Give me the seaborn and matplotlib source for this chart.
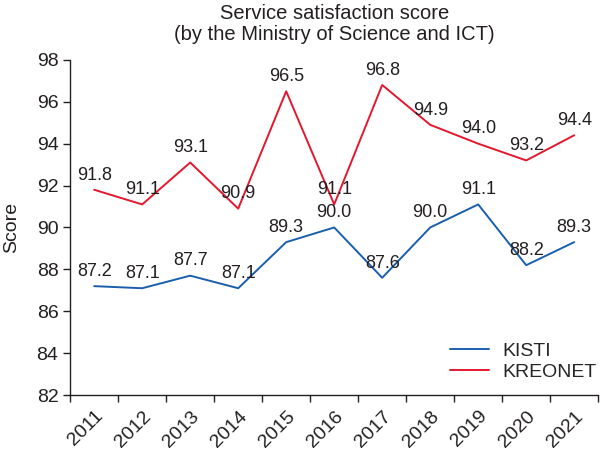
import matplotlib
matplotlib.use("Agg")
import matplotlib.pyplot as plt
import seaborn as sns
import pandas as pd
import numpy as np

years = ["2011", "2012", "2013", "2014", "2015", "2016", "2017", "2018", "2019", "2020", "2021"]
kisti = [87.2, 87.1, 87.7, 87.1, 89.3, 90.0, 87.6, 90.0, 91.1, 88.2, 89.3]
kreonet = [91.8, 91.1, 93.1, 90.9, 96.5, 91.1, 96.8, 94.9, 94.0, 93.2, 94.4]
series_names = ["KISTI", "KREONET"]
colors = ["#1a5fae", "#e3172d"]
yticks = [82, 84, 86, 88, 90, 92, 94, 96, 98]

sns.set_theme(style="ticks")
plt.rcParams["font.family"] = ["Liberation Sans", "DejaVu Sans"]

df = pd.DataFrame({
    "Year": years * 2,
    "pos": list(range(len(years))) * 2,
    "Score": kisti + kreonet,
    "Series": [series_names[0]] * len(years) + [series_names[1]] * len(years),
})

text_color = "#231f20"
fig = plt.figure(figsize=(6, 4.5), dpi=100)
ax = fig.add_axes([0.117, 0.122, 0.88, 0.745])
sns.lineplot(data=df, x="pos", y="Score", hue="Series", palette=colors,
             linewidth=1.4, ax=ax, legend=True)

for vals, c in zip([kisti, kreonet], colors):
    for i, v in enumerate(vals):
        ax.annotate(f"{v:.1f}", (i, v), xytext=(0, 4.5), textcoords="offset points",
                    ha="center", va="bottom", fontsize=13, color=text_color)

ax.set_xlim(-0.5, len(years) - 0.5)
ax.set_ylim(82, 98)
ax.set_yticks(yticks)
ax.set_yticklabels([str(t) for t in yticks], fontsize=14, color=text_color)
ax.set_xticks(np.arange(-0.5, len(years), 1.0))
ax.set_xticklabels([])
ax.set_xticks(range(len(years)), minor=True)
ax.set_xticklabels(years, minor=True, rotation=45, ha="right", rotation_mode="anchor",
                   fontsize=14, color=text_color)
ax.tick_params(axis="x", which="minor", length=0, pad=9)
ax.tick_params(axis="both", which="major", length=5, width=1, color=text_color, direction="out")
for s in ["top", "right"]:
    ax.spines[s].set_visible(False)
for s in ["left", "bottom"]:
    ax.spines[s].set_color(text_color)
    ax.spines[s].set_linewidth(1)
ax.set_xlabel("")
ax.set_ylabel("Score", fontsize=14, color=text_color, labelpad=12)
ax.set_title("Service satisfaction score\n(by the Ministry of Science and ICT)",
             fontsize=14.5, color=text_color, pad=14, linespacing=1.15)
leg = ax.legend(loc="lower right", frameon=False, fontsize=14, handlelength=2.0,
                borderaxespad=0, labelspacing=0.15, handletextpad=0.7,
                bbox_to_anchor=(1.012, 0.02))
fig.savefig("out.png", dpi=100)
